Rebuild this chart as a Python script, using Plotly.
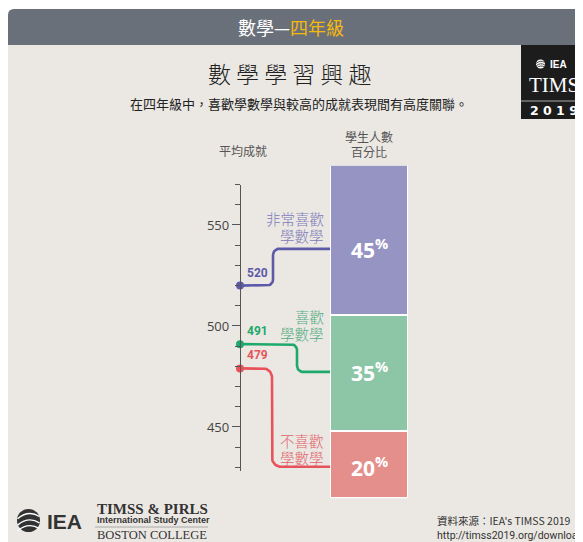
import numpy as np
import plotly.graph_objects as go

# The page has an 8px body margin, so the figure occupies screen px 8..583 x 8..542
OFF = 8
W, H = 583 - OFF, 542 - OFF

# ---------------- data ----------------
category_line1 = ["非常喜歡", "喜歡", "不喜歡"]
category_line2 = ["學數學", "學數學", "學數學"]
scores = [520, 491, 479]
percents = [45, 35, 20]
score_ticks = [450, 500, 550]
score_ticklabels = ["450", "500", "550"]

# ---------------- styles / layout constants (screen px) ----------------
bar_colors = ["#9694c3", "#8dc6a6", "#e48f8b"]
line_colors = ["#5c5aa8", "#1fa86b", "#e8535b"]
label_colors = ["#7d7bb9", "#52ad84", "#e2646b"]
CJK = "Noto Sans CJK TC"
BG = "#ebe8e3"

AX_X = 240
S_RANGE = (428, 570)
S_TOP_PX, S_BOT_PX = 184.6, 471.4
BAR_X0, BAR_X1 = 331, 408
BAR_TOP_PX, BAR_BOT_PX = 165.7, 498.3
LABEL_PCT = [75, 38, 9.5]
BEND_X = [273, 297, 272]
BEND_R = [6, 6, 9]
CAT_PX = [(218, 236), (316, 333), (440, 457)]


def py(p):
    return 1 - (p - OFF) / H


def px(x):
    return (x - OFF) / W


def px2score(p):
    return S_RANGE[0] + (S_BOT_PX - p) / (S_BOT_PX - S_TOP_PX) * (S_RANGE[1] - S_RANGE[0])


def score2px(s):
    return S_BOT_PX - (s - S_RANGE[0]) / (S_RANGE[1] - S_RANGE[0]) * (S_BOT_PX - S_TOP_PX)


def pct2px(p):
    return BAR_BOT_PX - p / 100 * (BAR_BOT_PX - BAR_TOP_PX)


fig = go.Figure()

# stacked bar (bottom to top)
for i in reversed(range(len(percents))):
    fig.add_trace(go.Bar(
        x=[(BAR_X0 + BAR_X1) / 2], y=[percents[i]], width=[BAR_X1 - BAR_X0],
        xaxis="x", yaxis="y2",
        marker=dict(color=bar_colors[i], line=dict(color="white", width=1.3)),
        hoverinfo="skip", showlegend=False,
    ))

# connector lines
t = np.linspace(0, np.pi / 2, 12)
for i, s in enumerate(scores):
    p0 = score2px(s)
    p1 = pct2px(LABEL_PCT[i])
    d = 1 if p1 > p0 else -1
    xv, r = BEND_X[i], BEND_R[i]
    xs = [AX_X, xv - r]
    ys = [p0, p0]
    cx, cy = xv - r, p0 + d * r
    xs += list(cx + r * np.sin(t))
    ys += list(cy - d * r * np.cos(t))
    cx, cy = xv + r, p1 - d * r
    xs += list(cx - r * np.cos(t))
    ys += list(cy + d * r * np.sin(t))
    xs += [BAR_X0]
    ys += [p1]
    fig.add_trace(go.Scatter(
        x=xs, y=[px2score(v) for v in ys], mode="lines", xaxis="x", yaxis="y",
        line=dict(color=line_colors[i], width=2.6), hoverinfo="skip",
        showlegend=False, cliponaxis=False,
    ))
    fig.add_trace(go.Scatter(
        x=[AX_X], y=[s], mode="markers", xaxis="x", yaxis="y",
        marker=dict(color=line_colors[i], size=8), hoverinfo="skip",
        showlegend=False, cliponaxis=False,
    ))

ann = []


def A(x, y, text, size, color="#333", family=CJK, xanchor="center", weight=None, **kw):
    f = dict(size=size, color=color, family=family)
    if weight:
        f["weight"] = weight
    ann.append(dict(x=px(x), y=py(y), xref="paper", yref="paper", text=text,
                    showarrow=False, xanchor=xanchor, yanchor="middle", font=f, **kw))


# header
A(291, 27, "數學—<span style='color:#f5b80c'>四年級</span>", 18, "white")
A(289, 73, "數 學 學 習 興 趣", 23, "#222", weight=300)
A(299, 103, "在四年級中，喜歡學數學與較高的成就表現間有高度關聯。", 13, "#222")

# axis titles
A(243, 150, "平均成就", 12, "#555")
A(369, 136, "學生人數", 12, "#555")
A(369, 151, "百分比", 12, "#555")

# category labels
for i in range(3):
    A(326, CAT_PX[i][0], category_line1[i], 14.5, label_colors[i], xanchor="right", weight=300)
    A(326, CAT_PX[i][1], category_line2[i], 14.5, label_colors[i], xanchor="right", weight=300)

# value labels and percents
for i, s in enumerate(scores):
    ann.append(dict(x=AX_X + 5, y=s, xref="x", yref="y", text=f"<b>{s}</b>",
                    showarrow=False, xanchor="left", yanchor="middle", yshift=13,
                    font=dict(size=12, color=line_colors[i], family="Roboto")))
    ann.append(dict(x=(BAR_X0 + BAR_X1) / 2, y=LABEL_PCT[i], xref="x", yref="y2",
                    text=f"<b>{percents[i]}<sup>%</sup></b>", showarrow=False,
                    xanchor="center", yanchor="middle",
                    font=dict(size=21, color="white", family="Open Sans")))

# TIMSS logo
A(548, 64, "<b>IEA</b>", 10, "white", family="Liberation Sans", xanchor="left")
A(527, 85, "TIMSS", 21, "white", family="Liberation Serif", xanchor="left")
A(528, 110, "<b>2 0 1 9</b>", 12.5, "white", family="DejaVu Sans", xanchor="left")

# footer
A(45, 521, "<b>IEA</b>", 21, "#333", family="Liberation Sans", xanchor="left")
A(95, 509, "<b>TIMSS &amp; PIRLS</b>", 15, "#333", family="Liberation Serif", xanchor="left")
A(95, 520, "<b>International Study Center</b>", 9, "#333", family="Liberation Sans", xanchor="left")
A(95, 535, "BOSTON COLLEGE", 12.5, "#333", family="Liberation Serif", xanchor="left")
A(435, 520, "資料來源：IEA's TIMSS 2019", 10.5, "#333", xanchor="left")
A(435, 535, "http://timss2019.org/download", 10.5, "#333", family="Roboto", xanchor="left")


def rect(x0, y0, x1, y1, color, **kw):
    return dict(type="rect", xref="paper", yref="paper", x0=px(x0), x1=px(x1),
                y0=py(y1), y1=py(y0), fillcolor=color, line=dict(width=0), layer="below", **kw)


shapes = [
    rect(8, 45, 583, 542, BG),
    dict(type="path", xref="paper", yref="paper", layer="below",
         path=(f"M {px(8)},{py(45)} L {px(8)},{py(15)} Q {px(8)},{py(9)} {px(14)},{py(9)} "
               f"L {px(583)},{py(9)} L {px(583)},{py(45)} Z"),
         fillcolor="#6a707a", line=dict(width=0)),
    rect(521, 45, 583, 119, "#1c1c1c"),
    dict(type="line", xref="paper", yref="paper", x0=px(521), x1=px(583), y0=py(101), y1=py(101),
         line=dict(color="#aaa", width=1), layer="above"),
    dict(type="circle", xref="paper", yref="paper", x0=px(536), x1=px(545), y0=py(68.5), y1=py(59.5),
         fillcolor="white", line=dict(width=0), layer="above"),
    dict(type="circle", xref="paper", yref="paper", x0=px(17), x1=px(40), y0=py(532), y1=py(509),
         fillcolor="#333", line=dict(width=0), layer="above"),
    dict(type="line", xref="paper", yref="paper", x0=px(95), x1=px(208), y0=py(527), y1=py(527),
         line=dict(color="#999", width=0.8), layer="above"),
]
# stripes on globes
for (cx, cy, r, col) in [(28.5, 520.5, 11.5, "white"), (540.5, 64, 4.5, "#1c1c1c")]:
    for k in (-0.45, 0.1, 0.6):
        x0, x1 = cx - r * 0.95, cx + r * 0.95
        yy = cy + k * r
        shapes.append(dict(type="path", xref="paper", yref="paper", layer="above",
                           path=f"M {px(x0)},{py(yy + r*0.3)} Q {px(cx)},{py(yy - r*0.5)} {px(x1)},{py(yy + r*0.1)}",
                           line=dict(color=col, width=1.4 if r > 6 else 0.8)))

fig.update_layout(
    width=W, height=H, margin=dict(l=0, r=0, t=0, b=0),
    paper_bgcolor="white", plot_bgcolor="rgba(0,0,0,0)",
    barmode="stack", bargap=0, showlegend=False,
    xaxis=dict(range=[OFF, 583], domain=[0, 1], visible=False, fixedrange=True),
    yaxis=dict(range=list(S_RANGE), domain=[py(S_BOT_PX), py(S_TOP_PX)],
               anchor="free", position=px(AX_X), showline=True, linecolor="#555",
               linewidth=1.3, ticks="outside", ticklen=8, tickwidth=1.3, tickcolor="#555",
               tickvals=score_ticks, ticktext=score_ticklabels,
               tickfont=dict(size=13, color="#444", family="Open Sans"),
               showgrid=False, zeroline=False, fixedrange=True,
               minor=dict(dtick=10, tick0=0, ticklen=5, tickwidth=1, tickcolor="#555",
                          ticks="outside", showgrid=False)),
    yaxis2=dict(range=[0, 100], domain=[py(BAR_BOT_PX), py(BAR_TOP_PX)], anchor="x",
                visible=False, fixedrange=True),
    annotations=ann, shapes=shapes,
)

fig.write_html("out.html")
